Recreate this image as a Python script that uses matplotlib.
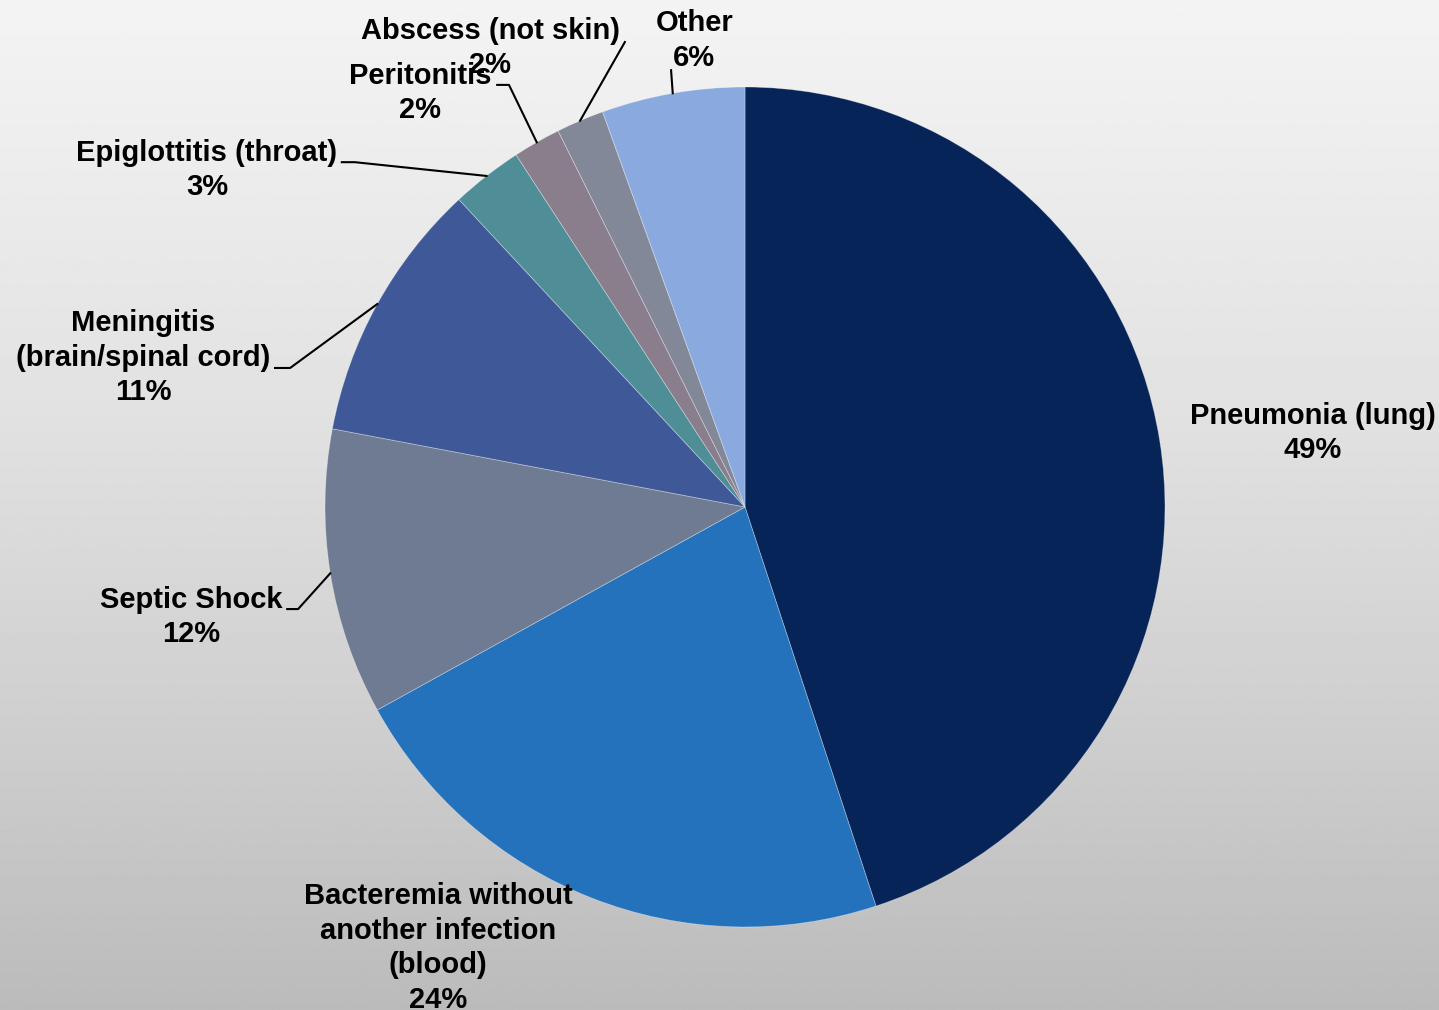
import numpy as np
import matplotlib.pyplot as plt

categories = ['Pneumonia (lung)', 'Bacteremia without\nanother infection\n(blood)',
              'Septic Shock', 'Meningitis\n(brain/spinal cord)', 'Epiglottitis (throat)',
              'Peritonitis', 'Abscess (not skin)', 'Other']
percents = [49, 24, 12, 11, 3, 2, 2, 6]
colors = ['#062457', '#2471BC', '#6E7B92', '#3F5998', '#4F8E97',
          '#8A7E8C', '#828898', '#8AAADF']

# label centres (pie radius = 1)
label_pos = [(1.352, 0.176), (-0.731, -1.050), (-1.319, -0.262), (-1.433, 0.355),
             (-1.281, 0.802), (-0.774, 0.986), (-0.607, 1.093), (-0.121, 1.110)]
# leader lines: points next to the label, then onto the middle of the wedge rim
leaders = {
    2: [(-1.090, -0.243), (-1.064, -0.243)],
    3: [(-1.119, 0.331), (-1.083, 0.331)],
    4: [(-0.960, 0.821), (-0.929, 0.821)],
    5: [(-0.590, 1.005), (-0.562, 1.005)],
    6: [(-0.286, 1.107)],
    7: [(-0.176, 1.040)],
}

plt.rcParams['font.family'] = ['Liberation Sans', 'DejaVu Sans']

fig = plt.figure(figsize=(14.39, 10.10), dpi=100)

# grey vertical gradient behind everything
bg = fig.add_axes([0, 0, 1, 1], zorder=0)
grad = np.interp(np.linspace(0, 1, 512), [0, 0.4, 0.7, 1],
                 [0.955, 0.886, 0.815, 0.733])
bg.imshow(np.tile(grad[:, None], (1, 2)), cmap='gray', vmin=0, vmax=1,
          aspect='auto', extent=[0, 1, 0, 1])
bg.axis('off')

ax = fig.add_axes([0, 0, 1, 1], zorder=1)
ax.patch.set_alpha(0)
wedges, _ = ax.pie(percents, colors=colors, startangle=90, counterclock=False,
                   radius=1.0, wedgeprops=dict(edgecolor=(1, 1, 1, 0.35), linewidth=0.6))
ax.set_xlim(-745 / 420, 694 / 420)
ax.set_ylim(-503 / 420, 507 / 420)
ax.set_aspect('auto')
ax.axis('off')

for i, w in enumerate(wedges):
    ax.text(label_pos[i][0], label_pos[i][1], '%s\n%d%%' % (categories[i], percents[i]),
            ha='center', va='center', fontsize=21, fontweight='bold',
            linespacing=1.3, zorder=5)
    if i in leaders:
        ang = np.deg2rad(0.5 * (w.theta1 + w.theta2))
        pts = leaders[i] + [(np.cos(ang), np.sin(ang))]
        xs, ys = zip(*pts)
        ax.plot(xs, ys, color='black', lw=1.5, zorder=4)

plt.savefig('out.png', dpi=100)
